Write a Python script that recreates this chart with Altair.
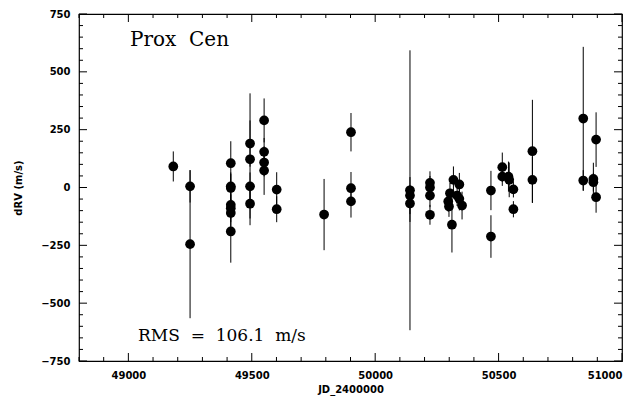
import altair as alt
import pandas as pd

# Observation epochs (JD - 2400000), radial velocity offsets (m/s) and errors (m/s)
jd = [49182, 49250, 49250,
      49415, 49415, 49415, 49415, 49415, 49415, 49415,
      49493, 49493, 49493, 49493,
      49550, 49550, 49550, 49550,
      49601, 49601,
      49793,
      49902, 49902, 49902,
      50141, 50141, 50141,
      50222, 50222, 50222, 50222,
      50317, 50341, 50303, 50332, 50296, 50341, 50299, 50352, 50311,
      50469, 50469,
      50515, 50515, 50540, 50543, 50560, 50560,
      50637, 50637,
      50843, 50843, 50884, 50884, 50895, 50895]
drv = [91, 5, -245,
       105, 5, -2, -75, -90, -110, -190,
       190, 122, 5, -70,
       290, 154, 108, 73,
       -9, -94,
       -117,
       239, -3, -60,
       -12, -35, -69,
       20, 0, -35, -118,
       33, 13, -25, -35, -60, -49, -82, -78, -161,
       -13, -212,
       88, 47, 47, 33, -8, -94,
       157, 33,
       298, 30, 37, 23, 207, -42]
err = [65, 70, 320,
       95, 60, 60, 60, 60, 60, 135,
       100, 285, 60, 64,
       95, 60, 60, 105,
       75, 56,
       154,
       83, 70, 70,
       605, 80, 80,
       50, 50, 50, 43,
       58, 50, 45, 45, 45, 50, 45, 60, 120,
       85, 92,
       63, 40, 65, 75, 35, 35,
       222, 100,
       310, 45, 70, 40, 118, 67]

x_major = [49000, 49500, 50000, 50500, 51000]
x_minor = [v for v in range(48800, 51001, 100) if v not in x_major]
y_major = [-750, -500, -250, 0, 250, 500, 750]
y_minor = [v for v in range(-750, 751, 50) if v not in y_major]

W, H = 543, 347
MAJ, MIN = 8, 4

df = pd.DataFrame({"jd": jd, "drv": drv, "err": err})
df["lo"] = df["drv"] - df["err"]
df["hi"] = df["drv"] + df["err"]

xs = alt.Scale(domain=[48800, 51000], nice=False, zero=False)
ys = alt.Scale(domain=[-750, 750], nice=False, zero=False)

lab = dict(labelFont="DejaVu Sans", labelFontSize=10, labelFontWeight="bold",
           labelColor="black", titleFont="DejaVu Sans", titleFontSize=10,
           titleFontWeight="bold", titleColor="black",
           ticks=False, domain=False, grid=False)

xaxis = alt.Axis(values=x_major, format="d", labelPadding=9,
                 title="JD_2400000", titleY=28, titleBaseline="middle", **lab)
yaxis = alt.Axis(values=y_major, format="d", labelPadding=9,
                 title="dRV (m/s)", titleX=-61, titleY=H / 2, titleAngle=-90,
                 titleAlign="center", titleBaseline="middle", **lab)

bars = alt.Chart(df).mark_rule(color="black", strokeWidth=1).encode(
    x=alt.X("jd:Q", scale=xs, axis=xaxis),
    y=alt.Y("lo:Q", scale=ys, axis=yaxis),
    y2="hi:Q",
)
dots = alt.Chart(df).mark_circle(color="black", opacity=1, size=95).encode(
    x=alt.X("jd:Q", scale=xs),
    y=alt.Y("drv:Q", scale=ys),
)


def xticks(vals, ln):
    d = pd.DataFrame({"v": vals})
    b = alt.Chart(d).mark_rule(color="black", strokeWidth=1).encode(
        x=alt.X("v:Q", scale=xs), y=alt.value(H), y2=alt.value(H - ln))
    t = alt.Chart(d).mark_rule(color="black", strokeWidth=1).encode(
        x=alt.X("v:Q", scale=xs), y=alt.value(0), y2=alt.value(ln))
    return [b, t]


def yticks(vals, ln):
    d = pd.DataFrame({"v": vals})
    l = alt.Chart(d).mark_rule(color="black", strokeWidth=1).encode(
        y=alt.Y("v:Q", scale=ys), x=alt.value(0), x2=alt.value(ln))
    r = alt.Chart(d).mark_rule(color="black", strokeWidth=1).encode(
        y=alt.Y("v:Q", scale=ys), x=alt.value(W), x2=alt.value(W - ln))
    return [l, r]


tick_layers = (xticks(x_major, MAJ) + xticks(x_minor, MIN)
               + yticks(y_major, MAJ) + yticks(y_minor, MIN))

label1 = alt.Chart(pd.DataFrame({"t": ["Prox\u00a0\u00a0Cen"]})).mark_text(
    font="DejaVu Serif", fontSize=20, align="left", baseline="alphabetic",
    color="black").encode(text="t:N", x=alt.value(51), y=alt.value(32))
label2 = alt.Chart(pd.DataFrame({"t": ["RMS\u00a0\u00a0=\u00a0\u00a0106.1\u00a0\u00a0m/s"]})).mark_text(
    font="DejaVu Serif", fontSize=17, align="left", baseline="alphabetic",
    color="black").encode(text="t:N", x=alt.value(59), y=alt.value(327))

chart = alt.layer(bars, dots, *tick_layers, label1, label2).properties(
    width=W, height=H,
    autosize=alt.AutoSizeParams(type="none"),
    padding={"left": 71, "top": 6, "right": 9, "bottom": 41},
    background="white",
).configure_view(stroke="black", strokeWidth=1.2)

chart.save("out.html", embed_options={"renderer": "svg", "actions": False})
